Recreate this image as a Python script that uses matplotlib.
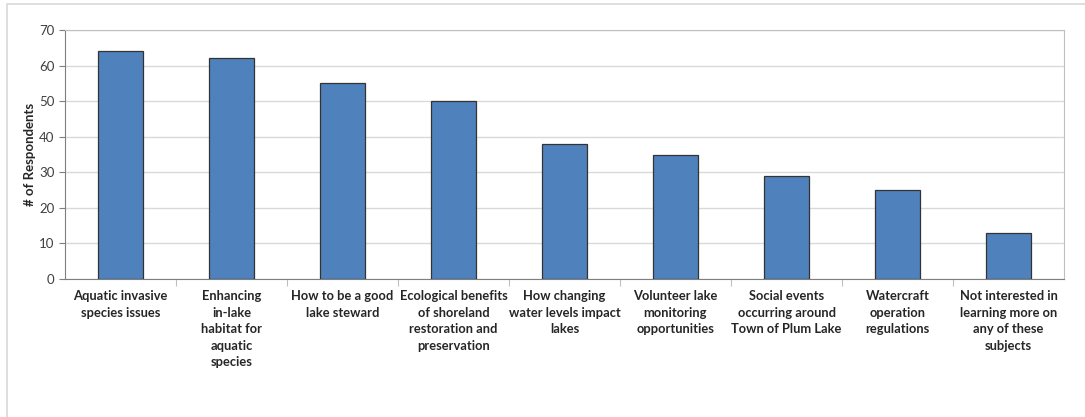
import matplotlib.pyplot as plt
from matplotlib.patches import Rectangle

# data
topik = [
    "Aquatic invasive\nspecies issues",
    "Enhancing\nin-lake\nhabitat for\naquatic\nspecies",
    "How to be a good\nlake steward",
    "Ecological benefits\nof shoreland\nrestoration and\npreservation",
    "How changing\nwater levels impact\nlakes",
    "Volunteer lake\nmonitoring\nopportunities",
    "Social events\noccurring around\nTown of Plum Lake",
    "Watercraft\noperation\nregulations",
    "Not interested in\nlearning more on\nany of these\nsubjects",
]
responden = [64, 62, 55, 50, 38, 35, 29, 25, 13]

plt.rcParams['font.family'] = ['Lato', 'DejaVu Sans']

fig = plt.figure(figsize=(10.85, 4.17), dpi=100)
# garis tepi area grafik
fig.patches.append(Rectangle((7 / 1085, -0.1), 1.2, 1 - 4 / 417 + 0.1, transform=fig.transFigure,
                             fill=False, edgecolor='#d9d9d9', linewidth=1.2))

ax = fig.add_axes([65 / 1085, 1 - 279 / 417, 999 / 1085, 249 / 417])
x = range(len(topik))
ax.bar(x, responden, width=0.4, color='#4f81bd', edgecolor='#333333', linewidth=0.9, zorder=3)

ax.set_xlim(-0.5, len(topik) - 0.5)
ax.set_ylim(0, 70)
ax.set_yticks(range(0, 71, 10))
ax.set_xticks([i + 0.5 for i in range(len(topik) - 1)], minor=False)
ax.set_xticklabels([])
ax.set_xticks(list(x), minor=True)
ax.set_xticklabels(topik, minor=True, fontsize=9.3, fontweight='bold', color='#262626',
                   linespacing=1.45)
ax.tick_params(axis='x', which='minor', length=0, pad=8)
ax.tick_params(axis='x', which='major', length=5, color='#bfbfbf', direction='out')
ax.tick_params(axis='y', length=4, color='#7f7f7f', labelsize=9.5, labelcolor='#404040')

ax.grid(axis='y', color='#d9d9d9', linewidth=1, zorder=0)
ax.set_ylabel("# of Respondents", fontsize=9.5, fontweight='bold', color='#262626', labelpad=2)

for s in ['top', 'right']:
    ax.spines[s].set_color('#bfbfbf')
ax.spines['left'].set_color('#7f7f7f')
ax.spines['bottom'].set_color('#7f7f7f')

plt.savefig('out.png', dpi=100)
